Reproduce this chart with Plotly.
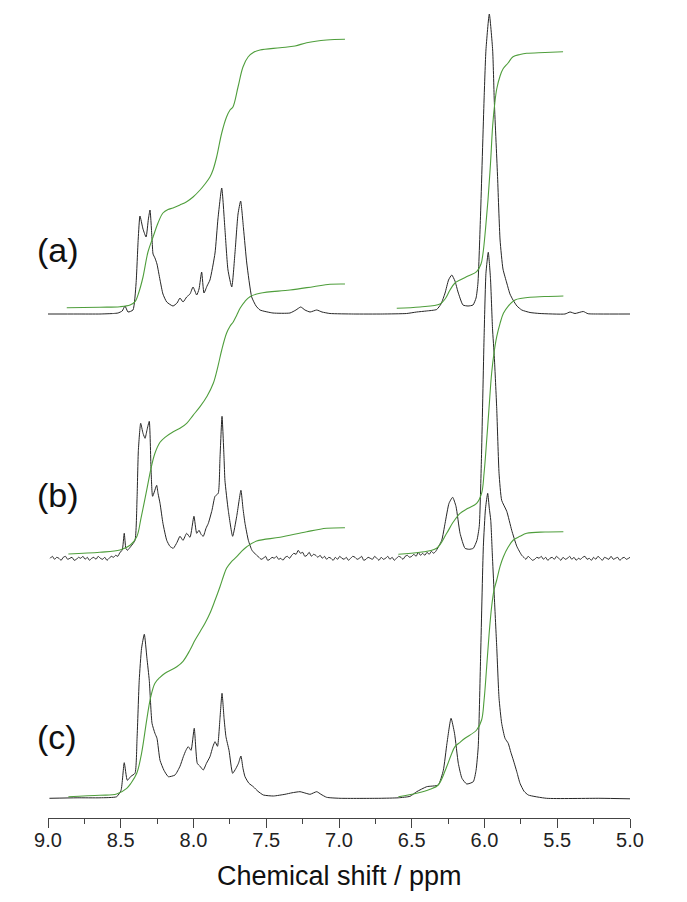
import plotly.graph_objects as go

# ---------------- data (ppm, intensity above own baseline) ----------
spec_a = [(9.00,0),(8.80,0),(8.643,0),(8.55,0.5),(8.519,1),(8.49,3),(8.471,8),(8.45,2),(8.416,4),
          (8.395,30),(8.38,75),(8.368,98),(8.347,85),(8.326,77),(8.31,95),(8.299,104),(8.285,75),
          (8.278,60),(8.265,56),(8.251,50),(8.230,34),(8.21,20),(8.184,12),(8.141,8),(8.113,11),
          (8.093,16),(8.072,12),(8.047,17),(8.024,20),(8.003,27),(7.978,19),(7.962,25),(7.944,42),
          (7.928,21),(7.907,28),(7.887,34),(7.852,61),(7.832,95),(7.806,126),(7.784,85),(7.763,44),
          (7.737,27),(7.715,61),(7.694,100),(7.676,113),(7.656,85),(7.634,51),(7.600,17),(7.570,8),
          (7.543,4),(7.454,1),(7.337,1),(7.296,4),(7.263,7),(7.234,4),(7.199,2),(7.153,4),(7.117,2),
          (7.062,0.5),(6.90,0),(6.70,0),(6.535,0.5),(6.466,2),(6.40,3),(6.329,4.5),(6.299,10),
          (6.271,21),(6.247,34),(6.225,39),(6.203,33),(6.182,22),(6.148,9),(6.113,8),(6.079,9),
          (6.058,16),(6.045,31),(6.027,100),(6.003,214),(5.990,264),(5.967,300),(5.944,264),
          (5.933,214),(5.911,140),(5.893,74),(5.873,45),(5.847,31),(5.825,20),(5.804,14),(5.777,8),
          (5.744,4),(5.687,1.5),(5.619,0.5),(5.447,0),(5.412,2),(5.378,0.5),(5.321,2.5),(5.289,0.3),
          (5.206,0),(5.0,0)]

spec_b = [(8.985,0),(8.970,2),(8.955,-1),(8.940,1),(8.925,0),(8.910,-2),(8.895,1),(8.880,2),
          (8.865,-1),(8.850,0),(8.835,1),(8.820,-2),(8.805,-1),(8.790,1),(8.775,0),(8.760,2),
          (8.745,-1),(8.730,1),(8.715,-2),(8.700,0),(8.685,1),(8.670,-1),(8.655,2),(8.640,0),
          (8.625,-1),(8.610,1),(8.595,-2),(8.580,0),(8.565,2),(8.550,1),(8.535,3),(8.520,2),
          (8.505,6),(8.490,8),(8.476,25),(8.465,10),(8.455,8),(8.430,12),(8.402,18),(8.388,60),
          (8.379,108),(8.363,135),(8.347,125),(8.333,120),(8.320,128),(8.304,137),(8.292,90),
          (8.281,62),(8.253,73),(8.244,65),(8.230,55),(8.210,35),(8.184,18),(8.162,12),(8.139,10),
          (8.113,16),(8.093,22),(8.072,18),(8.047,25),(8.024,21),(7.997,42),(7.978,25),(7.962,28),
          (7.948,24),(7.933,22),(7.914,30),(7.898,35),(7.873,48),(7.852,62),(7.830,65),(7.818,100),
          (7.804,142),(7.790,100),(7.784,78),(7.761,48),(7.731,22),(7.703,42),(7.674,68),(7.660,50),
          (7.646,35),(7.623,18),(7.598,8),(7.566,3),
          (7.550,1),(7.535,-1),(7.520,0),(7.505,2),(7.490,-2),(7.475,-1),(7.460,1),(7.445,0),
          (7.430,2),(7.415,-1),(7.400,0),(7.385,-2),(7.370,1),(7.355,2),(7.340,0),(7.325,3),
          (7.310,5),(7.295,4),(7.280,8),(7.265,5),(7.250,6),(7.235,2),(7.220,3),(7.205,6),
          (7.190,2),(7.175,4),(7.160,3),(7.145,1),(7.130,3),(7.115,0),(7.100,2),(7.085,-1),
          (7.070,1),(7.055,0),(7.040,-2),(7.025,1),(7.010,-1),(6.995,2),(6.980,0),(6.965,-1),
          (6.950,1),(6.935,-2),(6.920,0),(6.905,2),(6.890,1),(6.875,-1),(6.860,0),(6.845,2),
          (6.830,-2),(6.815,-1),(6.800,1),(6.785,0),(6.770,-1),(6.755,2),(6.740,0),(6.725,-2),
          (6.710,1),(6.695,-1),(6.680,0),(6.665,2),(6.650,-1),(6.635,1),(6.620,-2),(6.605,0),
          (6.590,2),(6.575,1),(6.560,-1),(6.545,2),(6.530,3),(6.515,1),(6.500,2),(6.485,4),
          (6.470,2),(6.455,6),(6.440,3),(6.425,5),(6.410,3),(6.395,6),(6.380,4),(6.365,7),
          (6.350,5),(6.335,7),
          (6.294,18),(6.271,35),(6.244,55),(6.219,61),(6.196,52),(6.168,25),(6.134,10),(6.105,9),
          (6.077,10),(6.052,18),(6.036,32),(6.021,100),(6.003,220),(5.990,285),(5.974,306),
          (5.959,280),(5.945,230),(5.932,200),(5.916,150),(5.900,85),(5.882,58),(5.847,47),
          (5.813,28),(5.778,12),(5.744,3),
          (5.730,1),(5.715,-1),(5.700,2),(5.685,0),(5.670,-2),(5.655,-1),(5.640,1),(5.625,0),
          (5.610,2),(5.595,-1),(5.580,1),(5.565,-2),(5.550,0),(5.535,1),(5.520,-1),(5.505,2),
          (5.490,0),(5.475,-2),(5.460,1),(5.445,-1),(5.430,0),(5.415,2),(5.400,-1),(5.385,1),
          (5.370,-2),(5.355,0),(5.340,-1),(5.325,1),(5.310,2),(5.295,-1),(5.280,0),(5.265,-2),
          (5.250,1),(5.235,-1),(5.220,2),(5.205,0),(5.190,-2),(5.175,1),(5.160,0),(5.145,-1),
          (5.130,2),(5.115,-1),(5.100,0),(5.085,1),(5.070,-2),(5.055,0),(5.040,1),(5.025,-1),
          (5.010,0),(5.000,1)]

spec_c = [(8.990,0),(8.800,0.5),(8.643,0.5),(8.528,1.6),(8.498,8),(8.476,35.6),(8.455,18),
          (8.430,22),(8.402,25),(8.388,60),(8.373,118),(8.357,150),(8.338,164),(8.320,140),
          (8.304,118),(8.285,75),(8.265,65),(8.251,60),(8.230,38),(8.203,28),(8.173,21.6),
          (8.127,23.3),(8.093,32),(8.070,41.6),(8.052,48),(8.036,51.6),(8.017,48),(7.995,70),
          (7.974,35),(7.955,32),(7.933,28.3),(7.911,35),(7.887,41.6),(7.866,52),(7.852,56.6),
          (7.835,52),(7.818,80),(7.804,105),(7.790,80),(7.777,61.6),(7.756,48),(7.731,25),
          (7.708,30),(7.691,35),(7.674,42.3),(7.660,30),(7.646,21.6),(7.619,15),(7.589,11.6),
          (7.557,7),(7.520,3.3),(7.451,2.3),(7.371,4),(7.323,5.5),(7.268,6.6),(7.227,5),(7.199,4),
          (7.153,6.6),(7.124,4),(7.085,1),(6.993,0),(6.718,0),(6.592,0.5),(6.512,2),(6.466,6.6),
          (6.397,11.6),(6.318,13.3),(6.283,28),(6.258,55),(6.230,80),(6.206,65),(6.180,35),
          (6.155,20),(6.122,14.3),(6.077,16.6),(6.058,28),(6.043,51.6),(6.027,140),(6.008,251.6),
          (5.993,290),(5.978,305),(5.967,290),(5.957,278),(5.945,240),(5.932,200),(5.916,151.6),
          (5.900,100),(5.882,75),(5.859,60),(5.837,55),(5.819,46),(5.802,38.3),(5.777,26),
          (5.756,15),(5.728,7),(5.699,3.3),(5.573,0),(5.206,0),(5.000,-0.5)]

# integral curves (ppm, height above the spectrum baseline)
int_a_left = [(8.871,6.3),(8.643,6.8),(8.505,7.3),(8.436,9),(8.402,12.3),(8.375,22),(8.347,37),
              (8.313,62),(8.278,77),(8.244,91),(8.210,101),(8.175,104.5),(8.141,106),(8.093,109),
              (8.047,112.3),(8.003,117),(7.955,124),(7.921,130),(7.887,137),(7.866,144),(7.841,157),
              (7.806,181),(7.773,197),(7.749,204),(7.729,207),(7.694,227),(7.660,247),(7.625,257),
              (7.584,262),(7.543,264),(7.405,266.3),(7.302,268),(7.222,271.3),(7.085,274),(6.959,274.7)]
int_a_right = [(6.603,5.7),(6.443,7),(6.306,10),(6.271,15),(6.237,24),(6.203,31),(6.168,34),
               (6.113,38),(6.054,42.3),(6.024,50),(6.010,61),(5.993,85),(5.976,114),(5.959,150),
               (5.944,188),(5.930,210),(5.916,225),(5.893,238),(5.873,245),(5.838,251),(5.804,257.3),
               (5.756,259.5),(5.710,260.7),(5.584,261.5),(5.460,262.3)]
int_b_left = [(8.860,4.3),(8.643,6),(8.505,8.3),(8.436,13),(8.390,21.6),(8.361,40),(8.322,68),
              (8.292,90),(8.265,105),(8.230,116),(8.196,121),(8.139,126.6),(8.093,130),(8.047,135),
              (8.003,143),(7.955,151.6),(7.907,162),(7.864,175),(7.832,192),(7.806,208.3),
              (7.773,225),(7.749,232),(7.726,236.6),(7.703,243),(7.680,250),(7.646,257),
              (7.612,261.6),(7.543,265),(7.337,268.3),(7.177,271.6),(7.062,274),(6.959,274.3)]
int_b_right = [(6.592,4),(6.443,6),(6.329,10),(6.260,25),(6.216,36),(6.168,45),(6.113,50),
               (6.054,55),(6.020,65),(6.003,85),(5.985,118),(5.969,150),(5.951,185),(5.935,205),
               (5.916,221.6),(5.893,235),(5.870,245),(5.838,252),(5.790,258.3),(5.742,260),
               (5.687,261),(5.584,261.8),(5.458,262.3)]
int_c_left = [(8.860,1.6),(8.643,3),(8.528,4.3),(8.459,10),(8.430,15),(8.390,25),(8.357,45),
              (8.322,78),(8.296,100),(8.265,115),(8.230,121),(8.196,125),(8.115,131.6),(8.072,137),
              (8.024,148.3),(7.990,158),(7.955,166.6),(7.921,175),(7.887,185),(7.852,198),
              (7.818,211.6),(7.794,222),(7.773,230),(7.743,236),(7.703,241.6),(7.670,247),
              (7.634,251.6),(7.566,257.3),(7.405,261),(7.222,266.6),(7.085,270),(6.959,270.6)]
int_c_right = [(6.592,1.6),(6.466,5),(6.374,9),(6.318,13.3),(6.260,31.6),(6.230,43),(6.203,51.6),
               (6.168,56),(6.134,60),(6.054,68.3),(6.020,78.3),(6.003,98),(5.985,131.6),
               (5.968,165),(5.951,191.6),(5.935,208),(5.916,218.3),(5.893,232),(5.870,241.6),
               (5.838,251),(5.802,258.3),(5.756,262),(5.710,265),(5.584,266.3),(5.458,266.6)]

labels = ["(a)", "(b)", "(c)"]
tick_vals = [9.0, 8.5, 8.0, 7.5, 7.0, 6.5, 6.0, 5.5, 5.0]

# ---------------- layout constants ----------------
offsets = [504.0, 259.7, 19.7]       # vertical stacking offset of each spectrum
label_y = [568, 323, 81]             # y (data units) of labels
BLACK = "#262626"
GREEN = "#4f9e3c"
FONT = "Liberation Sans, Arial, sans-serif"

fig = go.Figure()
spectra = [spec_a, spec_b, spec_c]
integrals = [(int_a_left, int_a_right), (int_b_left, int_b_right), (int_c_left, int_c_right)]

for spec, (il, ir), off in zip(spectra, integrals, offsets):
    fig.add_trace(go.Scatter(x=[p for p, _ in spec], y=[v + off for _, v in spec],
                             mode="lines",
                             line=dict(color=BLACK, width=1.0, shape="spline", smoothing=0.5),
                             hoverinfo="skip", showlegend=False))
    for seg in (il, ir):
        fig.add_trace(go.Scatter(x=[p for p, _ in seg], y=[v + off for _, v in seg],
                                 mode="lines", line=dict(color=GREEN, width=1.1, shape="spline"),
                                 hoverinfo="skip", showlegend=False))

for lab, ly in zip(labels, label_y):
    fig.add_annotation(x=-0.022, xref="paper", y=ly, yref="y", text=lab, showarrow=False,
                       xanchor="left", yanchor="middle",
                       font=dict(family=FONT, size=34, color="#111"))

fig.add_annotation(x=0.5, xref="paper", y=-0.072, yref="paper", text="Chemical shift / ppm",
                   showarrow=False, xanchor="center", yanchor="middle",
                   font=dict(family=FONT, size=27, color="#111"))

# the page body has an 8px margin, so the figure is sized/offset to compensate
fig.update_layout(
    width=671, height=886,
    margin=dict(l=40, r=49, t=0, b=76),
    paper_bgcolor="white", plot_bgcolor="white",
    xaxis=dict(range=[9.0, 5.0], tickvals=tick_vals,
               ticktext=[f"{v:.1f}" for v in tick_vals],
               showline=True, linecolor="#444", linewidth=1.3,
               ticks="outside", ticklen=9, tickwidth=1.3, tickcolor="#444",
               ticklabelstandoff=-5,
               minor=dict(dtick=0.25, ticks="outside", ticklen=5, tickwidth=1.3, tickcolor="#444"),
               showgrid=False, zeroline=False,
               tickfont=dict(family=FONT, size=20, color="#222")),
    yaxis=dict(range=[0, 810], visible=False),
)

fig.write_html("out.html")
